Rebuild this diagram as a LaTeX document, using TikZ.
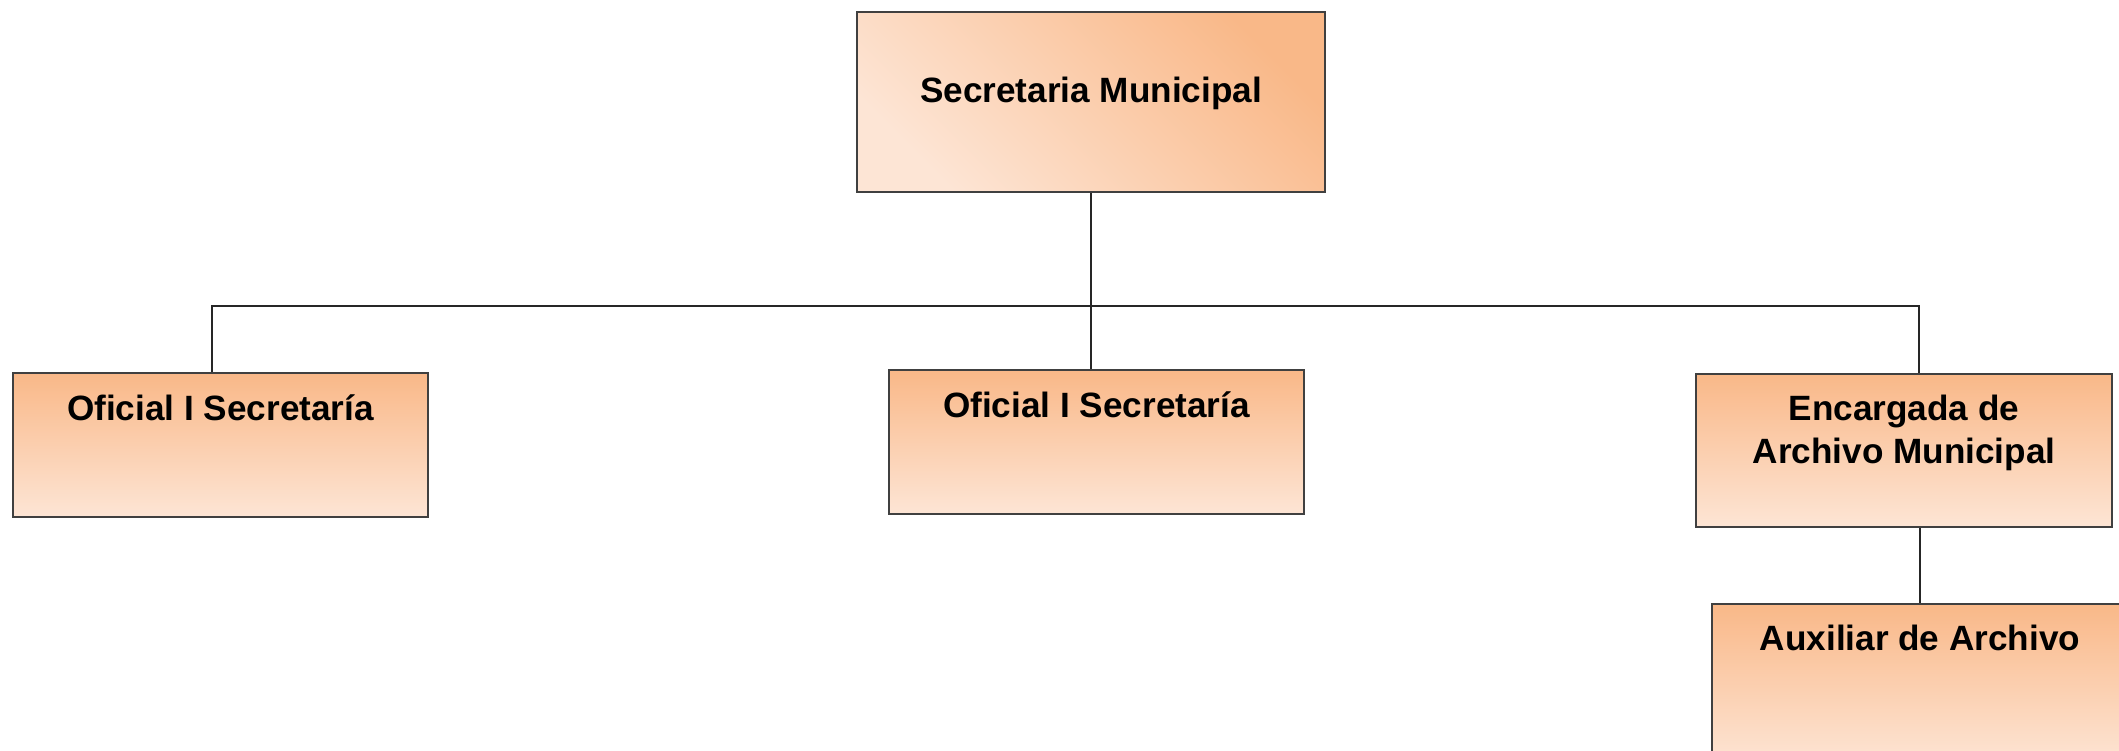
\documentclass[tikz,border=0pt]{standalone}
\usepackage{fontspec}
\setmainfont{Liberation Sans}
\usetikzlibrary{positioning}
\definecolor{naranja}{RGB}{249,184,136}
\definecolor{crema}{RGB}{253,229,213}
\begin{document}
\begin{tikzpicture}[
			caja/.style={rectangle, draw=black!75, line width=0.6pt, top color=naranja, bottom color=crema, inner sep=0pt},
			texto/.style={font=\bfseries\fontsize{10}{12.2}\selectfont, align=center, inner sep=0pt},
			linea/.style={line width=0.6pt, black!85}
		]
		\useasboundingbox (0,0) rectangle (21.19,-7.5);
		\clip (0,0) rectangle (21.19,-7.5);

		\node[caja, minimum width=4.68cm, minimum height=1.8cm, shading angle=-45] (sec) at (10.91,-1.02) {};
		\node[caja, minimum width=4.15cm, minimum height=1.44cm] (ofc1) at (2.205,-4.45) {};
		\node[caja, minimum width=4.15cm, minimum height=1.44cm] (ofc2) at (10.965,-4.42) {};
		\node[caja, minimum width=4.16cm, minimum height=1.53cm] (enc) at (19.04,-4.505) {};
		\node[caja, minimum width=4.16cm, minimum height=1.6cm] (aux) at (19.20,-6.84) {};

		\node[texto, below=0.65cm of sec.north] (tsec) {Secretaria Municipal};
		\node[texto, below=0.22cm of ofc1.north] (tofc1) {Oficial I Secretaría};
		\node[texto, below=0.22cm of ofc2.north] (tofc2) {Oficial I Secretaría};
		\node[texto, below=0.21cm of enc.north] (tenc) {Encargada de\\Archivo Municipal};
		\node[texto, below=0.21cm of aux.north] (taux) {Auxiliar de Archivo};

		\coordinate (bus) at ([yshift=-1.13cm]sec.south);
		\draw[linea] (sec.south) -- (sec.south |- ofc2.north);
		\draw[linea] ([xshift=-0.085cm]ofc1.north) |- (bus) -| ([xshift=0.15cm]enc.north);
		\draw[linea] (aux.north) -- (aux.north |- enc.south);
	\end{tikzpicture}
\end{document}
